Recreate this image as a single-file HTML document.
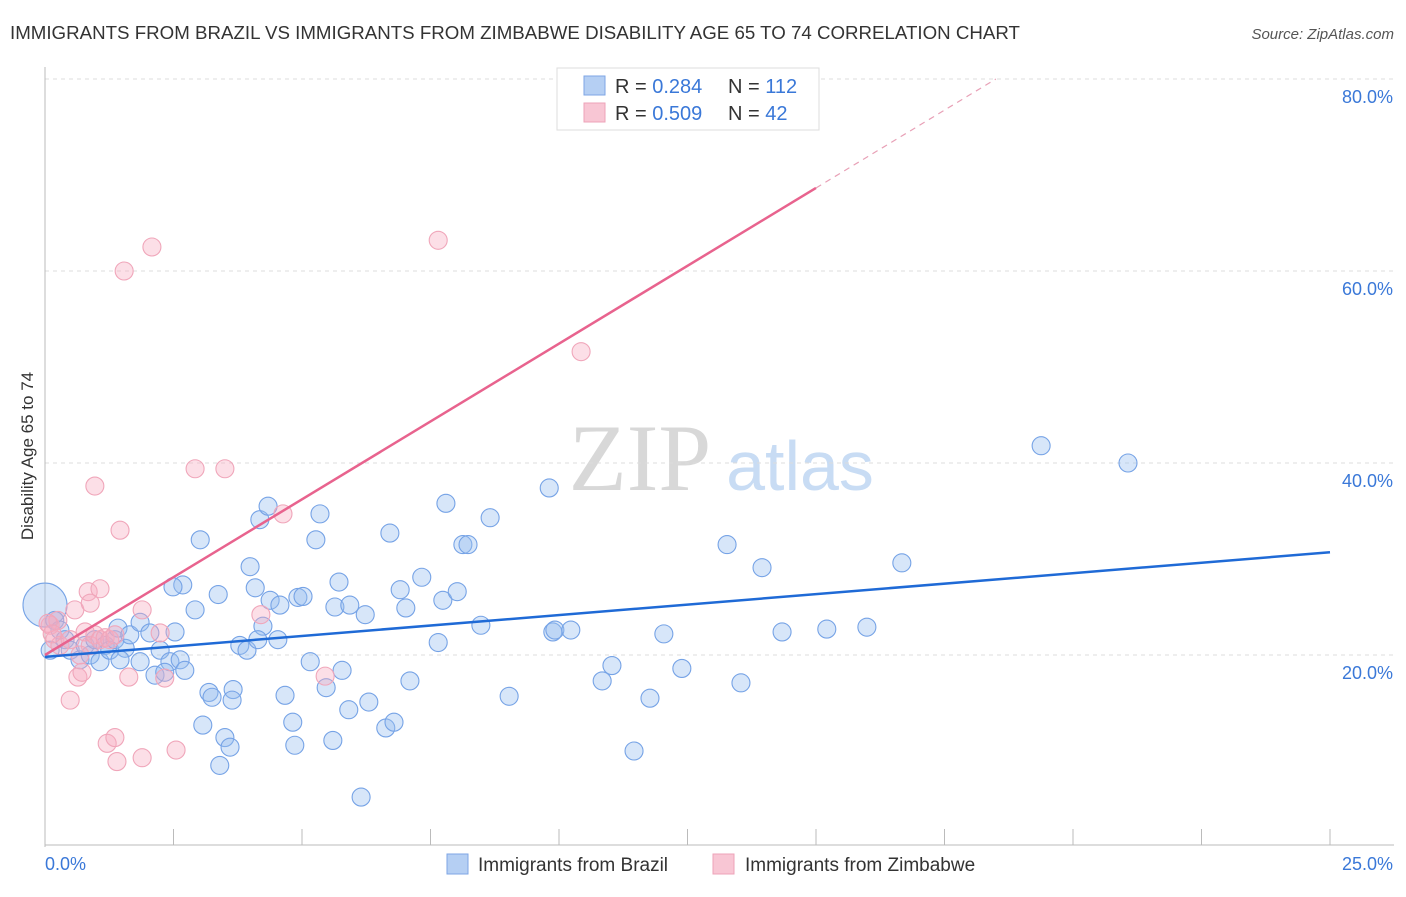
<!DOCTYPE html>
<html><head><meta charset="utf-8"><style>
body{margin:0;background:#fff;font-family:"Liberation Sans",sans-serif}
svg text{font-family:"Liberation Sans",sans-serif}
</style></head><body>
<svg id="c" width="1406" height="892" xmlns="http://www.w3.org/2000/svg">
<text x="10" y="39" font-size="18" fill="#333" textLength="1010" lengthAdjust="spacingAndGlyphs">IMMIGRANTS FROM BRAZIL VS IMMIGRANTS FROM ZIMBABWE DISABILITY AGE 65 TO 74 CORRELATION CHART</text>
<text x="1394" y="39" font-size="15" fill="#555" text-anchor="end" font-style="italic">Source: ZipAtlas.com</text>
<text x="33" y="456" font-size="17" fill="#333" text-anchor="middle" transform="rotate(-90 33 456)">Disability Age 65 to 74</text>
<text x="640" y="490" font-size="95" fill="#d8d8d8" text-anchor="middle" style="font-family:'Liberation Serif',serif">ZIP</text>
<text x="800" y="490" font-size="70" fill="#c8dcf4" text-anchor="middle">atlas</text>
<g id="grid"></g><g id="axes"></g><g id="pts"></g><g id="lines"></g>
<g>
<rect x="557" y="68" width="262" height="62" fill="#fff" stroke="#ddd"/>
<rect x="584" y="76" width="21" height="19" fill="#b5cff3" stroke="#7ea6e4"/>
<rect x="584" y="103" width="21" height="19" fill="#f8c6d4" stroke="#eea3b8"/>
<text x="615" y="93" font-size="20" fill="#333">R = <tspan fill="#3a78d8">0.284</tspan></text>
<text x="728" y="93" font-size="20" fill="#333">N = <tspan fill="#3a78d8">112</tspan></text>
<text x="615" y="120" font-size="20" fill="#333">R = <tspan fill="#3a78d8">0.509</tspan></text>
<text x="728" y="120" font-size="20" fill="#333">N = <tspan fill="#3a78d8"> 42</tspan></text>
</g>
<g>
<rect x="447" y="854" width="21" height="20" fill="#b5cff3" stroke="#7ea6e4"/>
<text x="478" y="871" font-size="19" fill="#333">Immigrants from Brazil</text>
<rect x="713" y="854" width="21" height="20" fill="#f8c6d4" stroke="#eea3b8"/>
<text x="745" y="871" font-size="19" fill="#333">Immigrants from Zimbabwe</text>
</g>
</svg>
<script>
const yTicks=[20,40,60,80];
const xTickLabels=["0.0%","25.0%"];
const brazilX=[0,.19,.29,.39,.10,.49,.68,.88,1.07,.78,.97,1.17,1.26,1.36,1.42,1.56,1.65,1.85,2.04,2.24,2.43,2.63,2.72,2.53,1.85,1.46,2.14,2.33,3.02,2.68,2.49,2.92,3.37,3.19,3.25,3.66,3.64,3.07,3.50,3.60,3.40,3.99,4.18,4.34,4.09,4.38,4.57,4.24,3.79,3.93,4.14,4.53,4.67,4.82,4.86,4.92,5.02,5.27,5.35,5.16,5.47,5.72,5.64,5.93,6.23,5.78,5.91,5.60,6.15,6.30,6.63,6.79,6.71,6.91,7.02,7.10,7.33,7.65,7.74,8.02,7.80,8.13,8.23,8.66,8.48,9.03,9.81,9.88,9.92,10.23,10.84,11.03,11.46,11.77,12.04,12.39,13.27,13.54,13.95,14.34,15.21,15.99,16.67,19.38,21.07];
const brazilY=[25.2,23.6,22.6,21.6,20.5,20.5,19.5,20.0,19.3,21.0,21.6,21.0,20.5,21.6,22.8,20.7,22.1,23.4,22.3,20.5,19.3,19.5,18.4,22.4,19.3,19.5,17.9,18.2,32.0,27.3,27.1,24.7,26.3,16.1,15.6,16.4,15.3,12.7,11.4,10.4,8.5,29.2,34.1,35.5,27.0,25.7,25.2,23.0,21.0,20.5,21.6,21.6,15.8,13.0,10.6,26.0,26.1,32.0,34.7,19.3,16.6,27.6,25.0,25.2,24.2,18.4,14.3,11.1,5.2,15.1,12.4,13.0,32.7,26.8,24.9,17.3,28.1,21.3,25.7,26.6,35.8,31.5,31.5,34.3,23.1,15.7,37.4,22.4,22.6,22.6,17.3,18.9,10.0,15.5,22.2,18.6,31.5,17.1,29.1,22.4,22.7,22.9,29.6,41.8,40.0];
const zimX=[.10,.19,.29,.49,.25,.58,.78,.88,.97,1.07,1.17,1.26,1.36,.84,.88,1.07,1.89,2.24,2.33,.64,.72,.49,1.21,1.36,1.40,1.89,1.63,2.55,2.92,3.50,.97,1.46,1.54,2.08,7.65,10.43,4.63,4.20,5.45,.06,.14,.68];
const zimY=[23.1,21.6,21.0,21.6,23.6,24.7,22.4,21.0,22.1,21.6,21.8,21.6,22.1,26.6,25.4,26.9,24.7,22.3,17.6,17.7,18.2,15.3,10.8,11.4,8.9,9.3,17.7,10.1,39.4,39.4,37.6,33.0,60.0,62.5,63.2,51.6,34.7,24.2,17.8,23.3,22.2,20.0];
const brazilTrend=[19.8,30.7];
const zimTrend=[20.0,68.65,15.0];
const X0=45,X1=1330,Y0=847,PX=9.6;
const sx=v=>X0+(X1-X0)*v/25, sy=v=>Y0-v*PX;
const NS="http://www.w3.org/2000/svg";
function mk(t,a,p){const e=document.createElementNS(NS,t);for(const k in a)e.setAttribute(k,a[k]);p.appendChild(e);return e;}
const grid=document.getElementById('grid'),axes=document.getElementById('axes'),pts=document.getElementById('pts'),lines=document.getElementById('lines');
yTicks.forEach(v=>{
 const l=mk('line',{x1:45,x2:1394,y1:sy(v),y2:sy(v),stroke:'#ddd','stroke-dasharray':'4 4'},grid);
 
 
 const t=mk('text',{x:1393,y:sy(v)+24,'font-size':18,fill:'#3a78d8','text-anchor':'end'},grid);
 t.textContent=v.toFixed(1)+'%';
 
 
});
const ax=mk('line',{x1:45,x2:45,y1:67,y2:847,stroke:'#bbb'},axes);


const bx=mk('line',{x1:45,x2:1394,y1:845,y2:845,stroke:'#bbb'},axes);


for(let i=0;i<=10;i++){const tk=mk('line',{x1:sx(i*2.5),x2:sx(i*2.5),y1:829,y2:845,stroke:'#bbb'},axes);
 
 }
[[0,45,'start'],[1,1393,'end']].forEach(([i,x,a])=>{const t=mk('text',{x:x,y:870,'font-size':18,fill:'#3a78d8','text-anchor':a},axes);t.textContent=xTickLabels[i];
 
 });
function dots(xs,ys,fill,stroke,name){xs.forEach((x,i)=>{const r=(i===0&&name==='brazil')?22:9;
 const c=mk('circle',{cx:sx(x),cy:sy(ys[i]),r:r,fill:fill,stroke:stroke,'stroke-width':1.1},pts);
 
 });}
dots(brazilX,brazilY,'rgba(150,188,238,0.38)','#76a3e6','brazil');
dots(zimX,zimY,'rgba(246,170,192,0.38)','#f0a6ba','zimbabwe');
const bl=mk('line',{x1:sx(0),y1:sy(brazilTrend[0]),x2:sx(25),y2:sy(brazilTrend[1]),stroke:'#1f6ad6','stroke-width':2.5},lines);


const zl=mk('line',{x1:sx(0),y1:sy(zimTrend[0]),x2:sx(zimTrend[2]),y2:sy(zimTrend[1]),stroke:'#e8638e','stroke-width':2.5},lines);


const slope=(zimTrend[1]-zimTrend[0])/zimTrend[2], xe=(80-zimTrend[0])/slope;
const zd=mk('line',{x1:sx(zimTrend[2]),y1:sy(zimTrend[1]),x2:sx(xe),y2:sy(80),stroke:'#e8a0b6','stroke-width':1.2,'stroke-dasharray':'6 5'},lines);


</script>
</body></html>
